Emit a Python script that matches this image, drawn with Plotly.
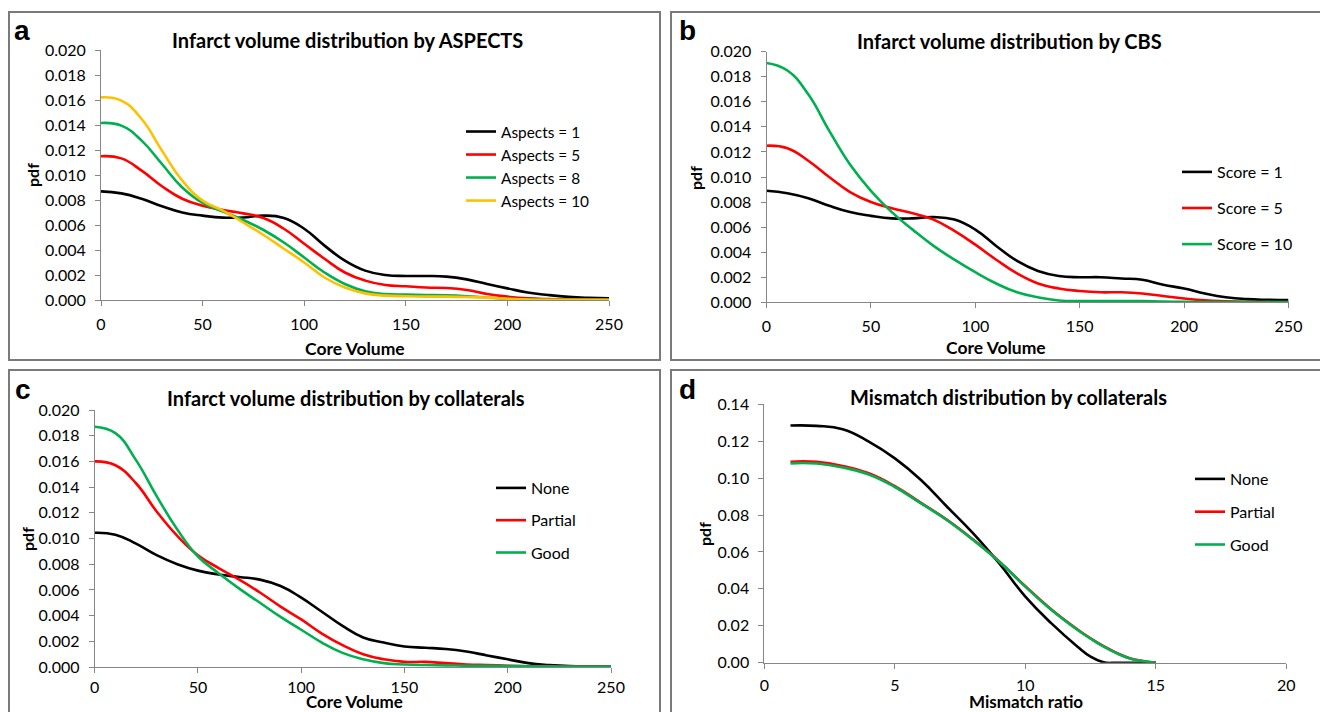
import plotly.graph_objects as go

W, H = 1320, 712

# ---------------- data ----------------
core_volume = [0, 10, 20, 30, 40, 50, 60, 70, 80, 90, 100, 110, 120, 130,
               140, 150, 160, 170, 180, 190, 200, 210, 220, 230, 240, 250]

# panel a: by ASPECTS
aspects_1 = [0.00869, 0.00853, 0.0081, 0.0075, 0.0070, 0.00675, 0.00659, 0.0066, 0.00675, 0.00656,
             0.0057, 0.00435, 0.00315, 0.00235, 0.0020, 0.00192, 0.00192, 0.00187, 0.00165, 0.00128,
             0.00093, 0.0006, 0.0004, 0.00025, 0.00017, 0.00013]
aspects_5 = [0.0115, 0.01133, 0.01035, 0.0091, 0.0081, 0.00755, 0.0072, 0.00693, 0.00656, 0.0057,
             0.0045, 0.0033, 0.0022, 0.00155, 0.0012, 0.0011, 0.0010, 0.00096, 0.0008, 0.00048,
             0.00027, 0.00013, 0.00007, 0.00004, 0.00003, 0.00002]
aspects_8 = [0.01416, 0.01395, 0.01275, 0.01088, 0.0090, 0.00776, 0.00707, 0.0064, 0.0056, 0.0046,
             0.0034, 0.0022, 0.00128, 0.0007, 0.00048, 0.00043, 0.0004, 0.00037, 0.0003, 0.0002,
             0.0001, 0.00005, 0.00003, 0.00002, 0.00002, 0.00001]
aspects_10 = [0.01621, 0.01595, 0.01448, 0.01195, 0.00955, 0.00795, 0.00715, 0.0062, 0.0052, 0.0041,
              0.0030, 0.0018, 0.0010, 0.00053, 0.00035, 0.0003, 0.00027, 0.00027, 0.00024, 0.00019,
              0.0001, 0.00004, 0.00002, 0.00001, 0.00001, 0.00001]

# panel b: by CBS
score_1 = [0.0089, 0.0087, 0.0083, 0.0077, 0.0072, 0.0069, 0.0067, 0.0067, 0.0068, 0.0066,
           0.0058, 0.0045, 0.0033, 0.0025, 0.0021, 0.0020, 0.0020, 0.0019, 0.0018, 0.0014,
           0.0011, 0.0007, 0.0004, 0.00025, 0.0002, 0.00018]
score_5 = [0.0125, 0.0123, 0.0113, 0.0100, 0.0088, 0.0080, 0.0075, 0.0071, 0.0066, 0.0057,
           0.0046, 0.0034, 0.0023, 0.0015, 0.0011, 0.0009, 0.0008, 0.0008, 0.0007, 0.0005,
           0.0003, 0.00015, 0.00008, 0.00004, 0.00003, 0.00002]
score_10 = [0.0191, 0.0185, 0.0166, 0.0137, 0.0110, 0.0089, 0.0072, 0.0058, 0.0045, 0.0034,
            0.0024, 0.0015, 0.0008, 0.0004, 0.00015, 0.0001, 0.0001, 0.0001, 0.0001, 0.00006,
            0.00003, 0.00002, 0.00002, 0.00001, 0.00001, 0.00001]

# panel c: by collaterals
coll_none = [0.01045, 0.0103, 0.0096, 0.0087, 0.0080, 0.0075, 0.0072, 0.0070, 0.0068, 0.0063,
             0.0054, 0.0043, 0.0032, 0.0023, 0.0019, 0.0016, 0.0015, 0.0014, 0.0012, 0.0009,
             0.0006, 0.0003, 0.00015, 0.00007, 0.00005, 0.00005]
coll_partial = [0.0160, 0.0157, 0.0143, 0.0121, 0.0102, 0.0087, 0.0077, 0.0068, 0.0058, 0.0047,
                0.0037, 0.0026, 0.0017, 0.0010, 0.0006, 0.0004, 0.0004, 0.0003, 0.0002, 0.00015,
                0.0001, 0.00006, 0.00004, 0.00004, 0.00004, 0.00004]
coll_good = [0.0187, 0.0182, 0.0161, 0.0133, 0.0107, 0.0086, 0.0073, 0.0061, 0.0050, 0.0039,
             0.0029, 0.0019, 0.0011, 0.0006, 0.0003, 0.0002, 0.00015, 0.00013, 0.0001, 0.0001,
             0.00008, 0.00006, 0.00005, 0.00004, 0.00004, 0.00004]

# panel d: mismatch by collaterals
mismatch_ratio = [1, 2, 3, 4, 5, 6, 7, 8, 9, 10, 11, 12, 12.5, 13, 13.5, 14, 14.5, 15]
mm_none = [0.1285, 0.1283, 0.1265, 0.1198, 0.1107, 0.0990, 0.0845, 0.0701, 0.0538, 0.0358,
           0.0213, 0.0087, 0.0033, 0.0002, 0.0, 0.0, 0.0, 0.0001]
mm_partial = [0.1089, 0.1088, 0.1066, 0.1026, 0.0956, 0.0866, 0.0774, 0.0667, 0.0549, 0.0414,
              0.0288, 0.0180, 0.0132, 0.0090, 0.0053, 0.0024, 0.0009, 0.0]
mm_good = [0.1080, 0.1079, 0.1058, 0.1020, 0.0952, 0.0863, 0.0772, 0.0665, 0.0547, 0.0412,
           0.0285, 0.0177, 0.0130, 0.0087, 0.0051, 0.0023, 0.0009, 0.0]

x_ticks_core = [0, 50, 100, 150, 200, 250]
x_ticks_mm = [0, 5, 10, 15, 20]

BLACK, RED, GREEN, YELLOW = "#000000", "#FF0000", "#00B050", "#FFC000"

# ---------------- helpers ----------------
def px(x):
    return x / W

def py(y):
    return 1 - y / H

FONT = "Lato"
AXCOL = "#868686"

fig = go.Figure()

def add(xs, ys, name, color, ax, legend):
    fig.add_trace(go.Scatter(
        x=xs, y=ys, name=name, mode="lines",
        line=dict(color=color, width=2.6, shape="spline", smoothing=1.3),
        xaxis="x" + ax, yaxis="y" + ax, legend=legend, legendgroup=name + ax,
        hoverinfo="skip"))

add(core_volume, aspects_1, "Aspects = 1", BLACK, "", "legend")
add(core_volume, aspects_5, "Aspects = 5", RED, "", "legend")
add(core_volume, aspects_8, "Aspects = 8", GREEN, "", "legend")
add(core_volume, aspects_10, "Aspects = 10", YELLOW, "", "legend")

add(core_volume, score_1, "Score = 1", BLACK, "2", "legend2")
add(core_volume, score_5, "Score = 5", RED, "2", "legend2")
add(core_volume, score_10, "Score = 10", GREEN, "2", "legend2")

add(core_volume, coll_none, "None", BLACK, "3", "legend3")
add(core_volume, coll_partial, "Partial", RED, "3", "legend3")
add(core_volume, coll_good, "Good", GREEN, "3", "legend3")

add(mismatch_ratio, mm_none, "None", BLACK, "4", "legend4")
add(mismatch_ratio, mm_partial, "Partial", RED, "4", "legend4")
add(mismatch_ratio, mm_good, "Good", GREEN, "4", "legend4")


def xaxis(x0, x1, y_anchor, rng, ticks, standoff):
    return dict(domain=[px(x0), px(x1)], anchor=y_anchor, range=rng, tickvals=ticks,
                showline=True, linecolor=AXCOL, linewidth=1, ticks="outside", ticklen=5,
                tickcolor=AXCOL, showgrid=False, zeroline=False, fixedrange=True,
                automargin=False,
                tickfont=dict(family=FONT, size=16, color="black"), ticklabelstandoff=standoff)


def yaxis(y0, y1, x_anchor, rng, dtick, fmt):
    return dict(domain=[py(y1), py(y0)], anchor=x_anchor, range=rng, dtick=dtick, tick0=0,
                tickformat=fmt, showline=True, linecolor=AXCOL, linewidth=1, ticks="outside",
                ticklen=5, tickcolor=AXCOL, showgrid=False, zeroline=False, fixedrange=True,
                automargin=False,
                tickfont=dict(family=FONT, size=16, color="black"), ticklabelstandoff=6)


layout = dict(
    template="none",
    width=W, height=H, margin=dict(l=0, r=0, t=0, b=0, pad=0, autoexpand=False),
    paper_bgcolor="white", plot_bgcolor="white",
    xaxis=xaxis(101, 609, "y", [0, 250], x_ticks_core, 5),
    yaxis=yaxis(50, 300, "x", [0, 0.020], 0.002, ".3f"),
    xaxis2=xaxis(766.5, 1288.5, "y2", [0, 250], x_ticks_core, 4),
    yaxis2=yaxis(51.7, 302.3, "x2", [0, 0.020], 0.002, ".3f"),
    xaxis3=xaxis(94.7, 611, "y3", [0, 250], x_ticks_core, 1),
    yaxis3=yaxis(410, 667, "x3", [0, 0.020], 0.002, ".3f"),
    xaxis4=xaxis(764.4, 1286.3, "y4", [0, 20], x_ticks_mm, 3),
    yaxis4=yaxis(404.3, 662.7, "x4", [0, 0.14], 0.02, ".2f"),
)


def legend(x, y, gap, size=16):
    return dict(x=px(x), y=py(y), xanchor="left", yanchor="top", bgcolor="rgba(0,0,0,0)",
                font=dict(family=FONT, size=size, color="black"), tracegroupgap=gap,
                itemwidth=30, borderwidth=0)


layout["legend"] = legend(461, 115, 0, 15.4)
layout["legend2"] = legend(1177, 155, 12.3)
layout["legend3"] = legend(491, 471, 8.5)
layout["legend4"] = legend(1190, 462, 9)
layout["showlegend"] = True

fig.update_layout(**layout)

# frames around panels
FRAME = "#7a7a7a"
for (x0, y0, x1, y1) in [(9, 12, 660, 360), (671, 12, 1325, 360),
                         (9, 370, 660, 720), (671, 370, 1325, 720)]:
    fig.add_shape(type="rect", xref="paper", yref="paper",
                  x0=px(x0), x1=px(x1), y0=py(y1), y1=py(y0),
                  line=dict(color=FRAME, width=2), fillcolor="rgba(0,0,0,0)", layer="below")


def text(x, y, s, size, bold=True, family=FONT, angle=0, xanchor="center"):
    fig.add_annotation(x=px(x), y=py(y), xref="paper", yref="paper", text=("<b>%s</b>" % s) if bold else s,
                       showarrow=False, xanchor=xanchor, yanchor="middle", textangle=angle,
                       font=dict(family=family, size=size, color="black"))


# panel letters
LF = "Liberation Sans"
text(12, 30, "a", 28, family=LF, xanchor="left")
text(677, 30, "b", 28, family=LF, xanchor="left")
text(13, 389, "c", 28, family=LF, xanchor="left")
text(677, 389, "d", 28, family=LF, xanchor="left")

# titles
text(347, 40, "Infarct volume distribution by ASPECTS", 20)
text(1009, 41, "Infarct volume distribution by CBS", 20)
text(346, 398, "Infarct volume distribution by collaterals", 20)
text(1008, 397, "Mismatch distribution by collaterals", 20)

# axis titles
text(355, 348, "Core Volume", 17.5)
text(996, 347, "Core Volume", 17.5)
text(354, 701, "Core Volume", 17)
text(1026, 701, "Mismatch ratio", 17)
text(32, 175, "pdf", 16, angle=-90)
text(695, 178, "pdf", 16, angle=-90)
text(27, 539, "pdf", 16, angle=-90)
text(704, 534, "pdf", 16, angle=-90)

fig.write_html("out.html")
